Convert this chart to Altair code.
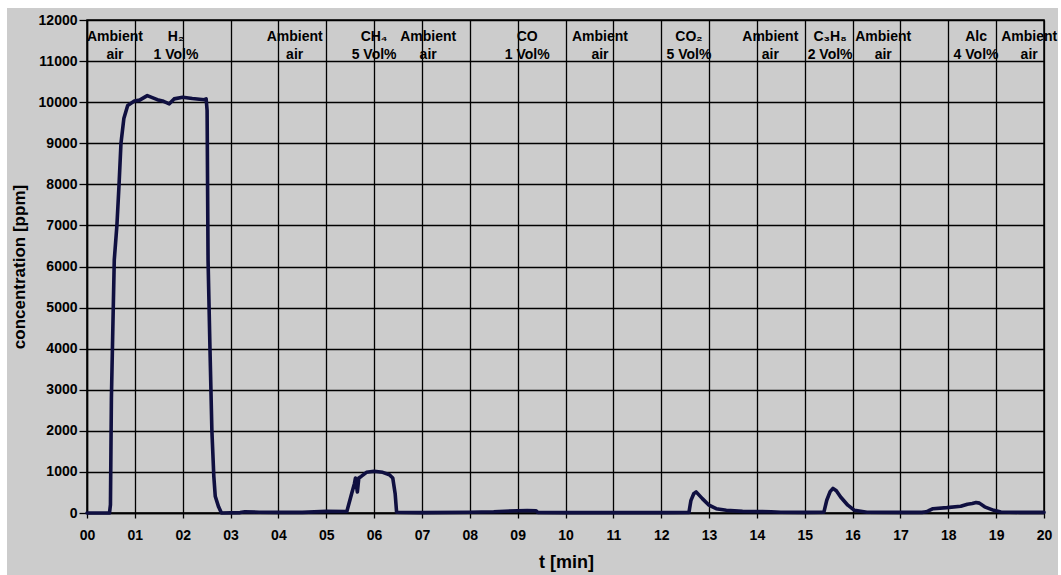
import altair as alt
import pandas as pd

# ---- data ----
t_min = [0, 0.47, 0.49, 0.5, 0.51, 0.54, 0.57, 0.625, 0.67, 0.71, 0.77, 0.85, 0.99, 1.1,
         1.26, 1.47, 1.6, 1.72, 1.82, 2.0, 2.2, 2.45, 2.49, 2.51, 2.53, 2.57, 2.61, 2.65,
         2.68, 2.75, 2.81, 3.2, 3.3, 3.6, 4.0, 4.5, 5.0, 5.43, 5.53, 5.59, 5.61, 5.65,
         5.68, 5.73, 5.84, 6.0, 6.18, 6.32, 6.39, 6.44, 6.47, 7.0, 8.0, 8.5, 9.0, 9.2,
         9.38, 9.42, 10.0, 11.0, 12.0, 12.58, 12.62, 12.68, 12.73, 12.86, 13.0, 13.15,
         13.36, 13.7, 14.3, 14.5, 15.0, 15.4, 15.46, 15.53, 15.59, 15.66, 15.75, 15.9,
         16.04, 16.3, 17.0, 17.45, 17.54, 17.68, 17.97, 18.26, 18.4, 18.5, 18.58, 18.65,
         18.76, 18.95, 19.1, 19.5, 20.0]
conc_ppm = [0, 0, 200, 1500, 2800, 4500, 6160, 7000, 8000, 9000, 9600, 9920, 10030, 10050,
            10160, 10060, 10020, 9960, 10080, 10120, 10090, 10060, 10080, 9800, 6160, 4000, 2000, 900,
            408, 150, 0, 10, 30, 20, 15, 15, 40, 35, 470, 720, 850, 510,
            850, 890, 990, 1015, 990, 930, 850, 470, 20, 10, 20, 30, 55, 60,
            55, 15, 10, 10, 10, 15, 300, 470, 515, 350, 190, 105,
            65, 40, 30, 20, 15, 20, 310, 520, 600, 540, 390, 190,
            65, 20, 15, 15, 30, 105, 130, 165, 215, 230, 255, 240,
            150, 65, 25, 15, 15]
assert len(t_min) == len(conc_ppm)

label_t = [0.585, 1.86, 4.34, 6.0, 7.13, 9.2, 10.72, 12.58, 14.28, 15.53, 16.64, 18.58, 19.69]
label_top = ["Ambient", "H\u2082", "Ambient", "CH\u2084", "Ambient", "CO", "Ambient",
             "CO\u2082", "Ambient", "C\u2083H\u2088", "Ambient", "Alc", "Ambient"]
label_bottom = ["air", "1 Vol%", "air", "5 Vol%", "air", "1 Vol%", "air",
                "5 Vol%", "air", "2 Vol%", "air", "4 Vol%", "air"]

x_ticks = list(range(0, 21))
y_ticks = list(range(0, 12001, 1000))

series = pd.DataFrame({"t": t_min, "c": conc_ppm})
labels = pd.DataFrame({"t": label_t, "top": label_top, "bottom": label_bottom})

FONT = "Liberation Sans, Arial, DejaVu Sans"
GREY = "#cccccc"

xs = alt.Scale(domain=[0, 20], nice=False, zero=False)
ys = alt.Scale(domain=[0, 12000], nice=False)

x_axis = alt.Axis(values=x_ticks, tickSize=5, labelPadding=10, labelFlush=False,
                  labelExpr="datum.value < 10 ? '0' + datum.value : '' + datum.value",
                  title="t [min]", titleX=479, titleY=49, titleBaseline="middle",
                  titleAlign="center", titleFontSize=18)
y_axis = alt.Axis(values=y_ticks, format="d", tickSize=8, labelPadding=2, labelFlush=False,
                  title="concentration [ppm]", titleX=-68, titleY=246.5, titleAngle=-90,
                  titleBaseline="middle", titleAlign="center", titleFontSize=17)

line = alt.Chart(series).mark_line(color="#0f0f40", strokeWidth=3.6, strokeJoin="round",
                                   strokeCap="round").encode(
    x=alt.X("t:Q", scale=xs, axis=x_axis),
    y=alt.Y("c:Q", scale=ys, axis=y_axis),
)

txt_top = alt.Chart(labels).mark_text(font=FONT, fontWeight="bold", fontSize=14,
                                      color="black", baseline="middle").encode(
    x=alt.X("t:Q", scale=xs), y=alt.datum(11590), text="top:N")
txt_bot = alt.Chart(labels).mark_text(font=FONT, fontWeight="bold", fontSize=14,
                                      color="black", baseline="middle").encode(
    x=alt.X("t:Q", scale=xs), y=alt.datum(11150), text="bottom:N")

# white page margins around the grey chart panel
strip_top = alt.Chart(series).mark_rect(color="white").encode(
    x=alt.value(-87), x2=alt.value(974), y=alt.value(-20), y2=alt.value(-12))
strip_left = alt.Chart(series).mark_rect(color="white").encode(
    x=alt.value(-87), x2=alt.value(-80), y=alt.value(-20), y2=alt.value(562))
strip_right = alt.Chart(series).mark_rect(color="white").encode(
    x=alt.value(971), x2=alt.value(974), y=alt.value(-20), y2=alt.value(562))

chart = alt.layer(strip_top, strip_left, strip_right, line, txt_top, txt_bot).properties(
    width=957, height=493,
    autosize=alt.AutoSizeParams(type="none"),
    padding={"left": 87, "top": 20, "right": 17, "bottom": 62},
    background=GREY,
).configure_view(
    stroke="black", strokeWidth=1.5, fill=GREY,
).configure_axis(
    grid=True, gridColor="black", gridWidth=1.3, gridOpacity=1,
    domainColor="black", domainWidth=1.5, tickColor="black", tickWidth=1.3,
    labelFont=FONT, labelFontWeight="bold", labelFontSize=14, labelColor="black",
    titleFont=FONT, titleFontWeight="bold", titleColor="black",
)

chart.save("out.html", embed_options={"renderer": "svg", "actions": False})
